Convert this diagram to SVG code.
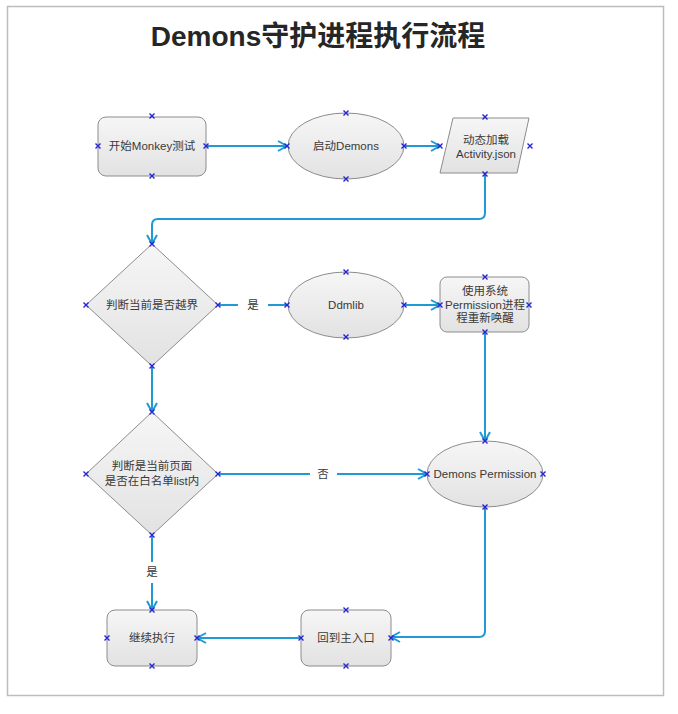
<svg xmlns="http://www.w3.org/2000/svg" xmlns:xlink="http://www.w3.org/1999/xlink" width="678" height="714" viewBox="0 0 678 714">
<style>
.shape{fill:url(#g);stroke:#8c8c8c;stroke-width:1}
.t{font-family:"Liberation Sans","Noto Sans CJK SC",sans-serif;font-size:11.5px;fill:#3a3a3a;text-anchor:middle}
.title{font-family:"Liberation Sans","Noto Sans CJK SC",sans-serif;font-size:28px;font-weight:bold;fill:#262626;text-anchor:middle}
.c{fill:none;stroke:#1f9ad4;stroke-width:2}
.a{marker-end:url(#arr)}
.x{stroke:#2424d6;stroke-width:1.4;fill:none}
</style>
<defs>
<linearGradient id="g" x1="0" y1="0" x2="0" y2="1">
<stop offset="0" stop-color="#f6f6f6"/>
<stop offset="1" stop-color="#e2e2e2"/>
</linearGradient>
<marker id="arr" markerUnits="userSpaceOnUse" markerWidth="14" markerHeight="14" viewBox="-11 -7 14 14" refX="0" refY="0" orient="auto">
<path d="M-9,-5 L0,0 L-9,5" fill="none" stroke="#1f9ad4" stroke-width="2"/>
</marker>
<path id="xm" class="x" d="M-2.5,-2.5 L2.5,2.5 M-2.5,2.5 L2.5,-2.5"/>
</defs>
<rect x="7.5" y="6.5" width="656" height="689" fill="#fff" stroke="#bdbdbd" stroke-width="1.5"/>
<text class="title" x="318" y="46">Demons守护进程执行流程</text>

<g id="connectors">
<path class="c a" d="M206,146 H287"/>
<path class="c a" d="M404,146 H440"/>
<path class="c a" d="M485,174 V213 Q485,219 479,219 H158 Q152,219 152,225 V244"/>
<path class="c" d="M218,305 H238 M268,305 H287"/>
<text class="t" x="253" y="309">是</text>
<path class="c a" d="M404,305 H440"/>
<path class="c a" d="M152,366 V412"/>
<path class="c a" d="M485,332 V441"/>
<path class="c" d="M218,474 H310"/>
<path class="c a" d="M337,474 H427"/>
<text class="t" x="323" y="478">否</text>
<path class="c" d="M152,535 V562"/>
<path class="c a" d="M152,583 V610"/>
<text class="t" x="152" y="576">是</text>
<path class="c a" d="M485,507 V631 Q485,637 479,637 H391"/>
<path class="c a" d="M301,638 H197"/>
</g>

<g id="n1">
<rect class="shape" x="98" y="117" width="108" height="59" rx="8"/>
<text class="t" x="152" y="150">开始Monkey测试</text>
</g>
<g id="n2">
<ellipse class="shape" cx="346" cy="146" rx="58" ry="33"/>
<text class="t" x="346" y="150">启动Demons</text>
</g>
<g id="n3">
<polygon class="shape" points="453,118 529,118 517,173 440,173"/>
<text class="t" x="486" y="144">动态加载</text>
<text class="t" x="486" y="158">Activity.json</text>
</g>
<g id="n4">
<polygon class="shape" points="152,244 218,305 152,366 86,305"/>
<text class="t" x="152" y="309">判断当前是否越界</text>
</g>
<g id="n5">
<ellipse class="shape" cx="346" cy="305" rx="58" ry="33"/>
<text class="t" x="346" y="309">Ddmlib</text>
</g>
<g id="n6">
<rect class="shape" x="440" y="277" width="89" height="55" rx="7"/>
<text class="t" x="485" y="295">使用系统</text>
<text class="t" x="485" y="309">Permission进程</text>
<text class="t" x="485" y="322">程重新唤醒</text>
</g>
<g id="n7">
<polygon class="shape" points="152,412 218,474 152,535 86,474"/>
<text class="t" x="152" y="470">判断是当前页面</text>
<text class="t" x="152" y="485">是否在白名单list内</text>
</g>
<g id="n8">
<ellipse class="shape" cx="485" cy="474" rx="58" ry="33"/>
<text class="t" x="485" y="478">Demons Permission</text>
</g>
<g id="n9">
<rect class="shape" x="107" y="610" width="90" height="56" rx="8"/>
<text class="t" x="152" y="642">继续执行</text>
</g>
<g id="n10">
<rect class="shape" x="301" y="610" width="90" height="56" rx="8"/>
<text class="t" x="346" y="642">回到主入口</text>
</g>

<g id="points">
<use xlink:href="#xm" x="152" y="116"/><use xlink:href="#xm" x="152" y="176"/><use xlink:href="#xm" x="98" y="146"/><use xlink:href="#xm" x="206" y="146"/>
<use xlink:href="#xm" x="346" y="113"/><use xlink:href="#xm" x="346" y="179"/><use xlink:href="#xm" x="287" y="146"/><use xlink:href="#xm" x="404" y="146"/>
<use xlink:href="#xm" x="485" y="117"/><use xlink:href="#xm" x="485" y="174"/><use xlink:href="#xm" x="440" y="146"/><use xlink:href="#xm" x="530" y="146"/>
<use xlink:href="#xm" x="152" y="244"/><use xlink:href="#xm" x="86" y="305"/><use xlink:href="#xm" x="218" y="305"/><use xlink:href="#xm" x="152" y="366"/>
<use xlink:href="#xm" x="346" y="272"/><use xlink:href="#xm" x="346" y="337"/><use xlink:href="#xm" x="287" y="305"/><use xlink:href="#xm" x="404" y="305"/>
<use xlink:href="#xm" x="485" y="277"/><use xlink:href="#xm" x="485" y="332"/><use xlink:href="#xm" x="440" y="305"/><use xlink:href="#xm" x="529" y="305"/>
<use xlink:href="#xm" x="152" y="412"/><use xlink:href="#xm" x="86" y="474"/><use xlink:href="#xm" x="218" y="474"/><use xlink:href="#xm" x="152" y="535"/>
<use xlink:href="#xm" x="485" y="441"/><use xlink:href="#xm" x="485" y="507"/><use xlink:href="#xm" x="427" y="474"/><use xlink:href="#xm" x="543" y="474"/>
<use xlink:href="#xm" x="152" y="610"/><use xlink:href="#xm" x="152" y="666"/><use xlink:href="#xm" x="107" y="638"/><use xlink:href="#xm" x="197" y="638"/>
<use xlink:href="#xm" x="346" y="610"/><use xlink:href="#xm" x="346" y="666"/><use xlink:href="#xm" x="301" y="638"/><use xlink:href="#xm" x="391" y="638"/>
</g>
</svg>
